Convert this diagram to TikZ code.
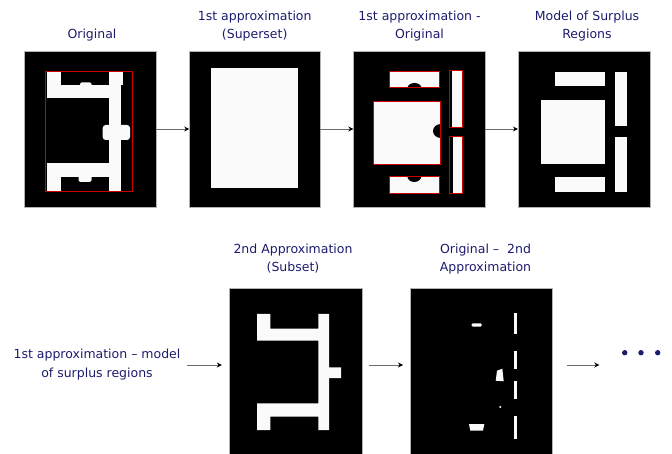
\documentclass[tikz,border=0pt]{standalone}
\usepackage{fontspec}
\setmainfont{DejaVu Sans}
\usetikzlibrary{arrows.meta}
\definecolor{navy}{RGB}{28,28,110}
\definecolor{snow}{RGB}{250,250,250}
\definecolor{redl}{RGB}{205,0,0}
\tikzset{
  panel/.style={fill=black, draw=gray!60, line width=0.6pt, inner sep=0pt, outer sep=0pt},
  ttl/.style={font=\fontsize{12.5}{18}\selectfont, text=navy, align=center, inner sep=0pt, anchor=base},
  arr/.style={draw=gray!85!black, line width=0.8pt, -{Stealth[length=5pt,width=5pt,color=black]}},
  wh/.style={fill=snow},
  rbox/.style={draw=redl, line width=0.8pt},
}
\begin{document}
\begin{tikzpicture}[x=1pt,y=-1pt]
\useasboundingbox (0,0) rectangle (672,454);
% panels
\node[panel, minimum width=132pt, minimum height=156pt] (p1) at (90,129) {};
\node[panel, minimum width=131pt, minimum height=156pt] (p2) at (254.7,129) {};
\node[panel, minimum width=132pt, minimum height=156pt] (p3) at (419.3,129) {};
\node[panel, minimum width=132.7pt, minimum height=156pt] (p4) at (584.3,129) {};
\node[panel, minimum width=132.7pt, minimum height=166pt] (p5) at (295.7,371) {};
\node[panel, minimum width=142.7pt, minimum height=166pt] (p6) at (481.35,371) {};
% titles (base anchor = baseline of the last line)
\node[ttl] (t1) at (92,38.6) {Original};
\node[ttl] (t2) at (254.7,38.6) {1st approximation\\(Superset)};
\node[ttl] (t3) at (419.5,38.6) {1st approximation -\\Original};
\node[ttl] (t4) at (587,38.6) {Model of Surplus\\Regions};
\node[ttl] (t5) at (293,271.1) {2nd Approximation\\(Subset)};
\node[ttl] (t6) at (485.5,271.1) {Original –\ \ 2nd\\Approximation};
\node[ttl] (t0) at (97,377) {1st approximation – model\\of surplus regions};
% panel 1 : original with bounding box
\fill[wh] (46.7,72.3) rectangle (60.7,98.3);
\fill[wh] (46.7,85) rectangle (120.5,98.3);
\fill[wh] (109.3,72.3) rectangle (123,85);
\fill[wh] (109.3,72.3) rectangle (120.5,191.7);
\fill[wh, rounded corners=3pt] (102.7,125) rectangle (130,140);
\fill[wh] (46.7,163.3) rectangle (120.5,176.7);
\fill[wh] (46.7,163.3) rectangle (60.7,191.7);
\fill[wh, rounded corners=1.5pt] (80,82.5) rectangle (91.5,87);
\fill[wh, rounded corners=1.5pt] (78.5,175) rectangle (91.5,182);
\draw[rbox] (45.3,71) rectangle (132.7,191.7);
% panel 2 : superset
\fill[wh] (211,68.3) rectangle (297.7,188.3);
% panel 3 : difference
\fill[wh] (389.3,71) rectangle (439.3,87.7);
\fill[black] (414.5,88) ellipse [x radius=7pt, y radius=5pt];
\fill[wh] (389.3,176.3) rectangle (439.3,193);
\fill[black] (414.3,176) ellipse [x radius=7pt, y radius=6pt];
\fill[wh] (373.3,101) rectangle (440.7,164.3);
\fill[black] (441,131) ellipse [x radius=8pt, y radius=7pt];
\fill[wh] (452,70.3) rectangle (462,127.7);
\fill[wh] (452.5,136.3) rectangle (462.7,193);
\draw[rbox] (389.3,71) rectangle (439.3,87.7);
\draw[rbox] (389.3,176.3) rectangle (439.3,193);
\draw[rbox] (373.3,101) rectangle (440.7,164.3);
\draw[rbox] (449.3,70.3) rectangle (462,127.7);
\draw[rbox] (449.3,136.3) rectangle (462.7,193);
% panel 4 : model of surplus regions
\fill[wh] (554.7,71.7) rectangle (605.3,86.3);
\fill[wh] (614.7,71.7) rectangle (626.7,126.3);
\fill[wh] (540.7,100.3) rectangle (604.7,163.7);
\fill[wh] (614.7,137) rectangle (626.7,191.7);
\fill[wh] (554.7,177) rectangle (604.7,191.7);
% panel 5 : subset
\fill[wh] (257,314) -- (270.3,314) -- (270.3,328.7) -- (318.3,328.7) -- (318.3,314) -- (329,314)
  -- (329,367.3) -- (341,367.3) -- (341,378) -- (329,378) -- (329,430) -- (318.3,430)
  -- (318.3,416.7) -- (270.3,416.7) -- (270.3,430) -- (257,430) -- (257,403.3) -- (318.3,403.3)
  -- (318.3,340.7) -- (257,340.7) -- cycle;
% panel 6 : residue
\fill[wh, rounded corners=1pt] (471.7,323.3) rectangle (481.7,326.7);
\fill[wh] (514.3,312.7) rectangle (517.3,334);
\fill[wh] (514.3,350.7) rectangle (517.3,369.3);
\fill[wh] (514.3,381.3) rectangle (517.3,399.3);
\fill[wh] (514.3,416.3) rectangle (517,439.3);
\fill[wh] (497,370.7) -- (502.3,368.7) -- (503.7,381.3) -- (495.7,380.7) -- cycle;
\fill[wh] (500.3,407) circle [radius=1.1pt];
\fill[wh] (469,424) -- (484.3,424) -- (483,430.7) -- (470.3,430.7) -- cycle;
% arrows
\draw[arr] (p1.east) -- (p2.west);
\draw[arr] (p2.east) -- (p3.west);
\draw[arr] (p3.east) -- (p4.west);
\coordinate (r2y) at (0,365);
\coordinate (e6) at (599.3,365);
\draw[arr, shorten <=6.5pt, shorten >=7.5pt] (t0.east |- r2y) -- (p5.west |- r2y);
\draw[arr, shorten <=7pt, shorten >=7pt] (p5.east |- r2y) -- (p6.west |- r2y);
\draw[arr, shorten <=14pt] (p6.east |- r2y) -- (e6);
% continuation dots
\fill[navy] (624.7,352.7) circle [radius=2.7pt];
\fill[navy] (641,352.7) circle [radius=2.7pt];
\fill[navy] (657.7,352.7) circle [radius=2.7pt];
\end{tikzpicture}
\end{document}
